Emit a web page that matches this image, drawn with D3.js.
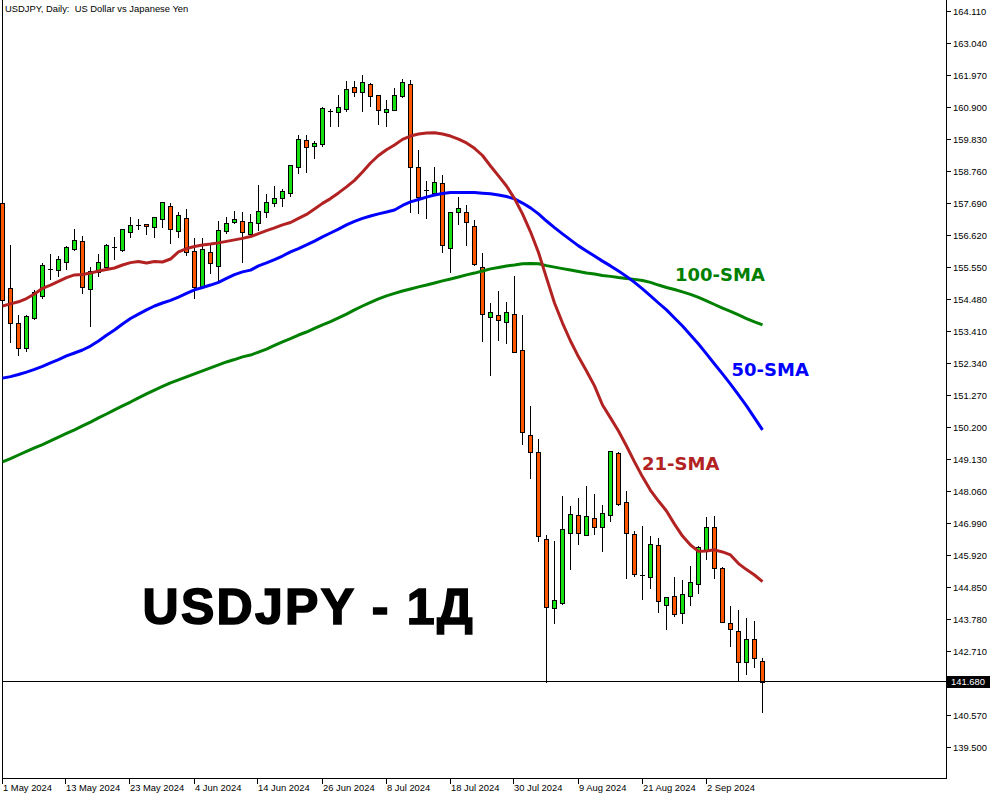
<!DOCTYPE html>
<html><head><meta charset="utf-8">
<script src="https://cdn.jsdelivr.net/npm/d3@7"></script>
<style>html,body{margin:0;padding:0;background:#fff;} svg{display:block;} text{white-space:pre;}</style>
</head><body>
<svg id="c" width="1000" height="800"></svg>
<script>
// ---- data (USDJPY daily, 1 May 2024 – 11 Sep 2024) ----
const open = [157.68,154.84,153.67,152.86,153.84,154.60,155.48,155.44,155.71,156.17,
156.41,154.81,155.39,155.56,156.23,156.12,156.73,156.97,156.98,156.88,
157.15,157.58,156.77,157.18,156.09,154.88,156.06,155.59,156.77,157.05,
157.08,156.65,157.02,157.40,157.68,157.87,158.02,158.91,159.80,159.61,
159.68,160.78,160.73,160.83,161.56,161.41,161.67,161.30,160.74,160.80,
161.28,161.66,158.89,158.13,158.02,158.35,156.18,157.38,157.40,156.92,
155.54,153.87,153.94,153.73,153.97,152.77,149.93,149.36,146.45,144.15,
144.31,146.65,147.26,146.59,147.16,146.85,147.26,149.34,147.69,146.62,
145.27,145.18,146.25,144.25,144.56,143.98,144.55,144.96,146.10,146.87,
145.48,143.66,143.40,142.34,143.13,142.39];
const high = [157.79,156.29,153.95,153.95,154.79,155.69,155.99,155.92,156.26,156.81,
156.59,155.54,155.99,156.32,156.57,156.83,157.23,157.16,157.00,157.24,
157.73,157.68,157.38,157.49,156.51,156.51,156.37,157.09,157.23,157.43,
157.39,157.33,158.30,157.99,158.26,158.16,158.96,159.97,159.97,159.78,
160.91,160.84,161.30,161.78,161.78,161.97,161.71,161.31,161.14,161.55,
161.84,161.80,159.46,158.43,158.91,158.63,157.40,157.88,157.63,157.13,
156.02,154.34,154.75,154.38,155.24,153.95,150.91,149.81,146.60,146.40,
147.90,147.57,147.82,148.23,147.97,147.60,149.40,149.36,148.07,146.74,
146.90,146.55,146.50,144.52,145.19,145.09,145.55,146.22,147.19,147.22,
145.54,144.23,144.09,143.83,143.72,142.48];
const low = [152.95,153.06,152.61,152.76,153.80,154.53,155.15,155.25,155.49,156.12,
154.70,153.59,155.26,155.54,155.82,156.08,156.55,156.83,156.67,156.57,
156.90,156.37,156.57,155.97,154.53,154.84,155.36,155.12,156.68,157.04,
155.73,156.62,156.79,157.24,157.60,157.60,157.94,158.69,158.74,159.21,
159.60,160.28,160.28,160.78,161.28,160.78,160.95,160.33,160.28,160.79,
161.25,157.40,157.37,157.19,158.00,156.07,155.38,156.98,156.29,155.62,
153.09,151.94,153.11,153.02,152.70,149.63,148.51,146.41,141.69,143.65,
144.28,145.45,146.29,146.58,146.62,146.07,147.05,147.59,145.17,145.21,
144.45,144.83,144.03,143.45,143.90,143.67,144.24,144.67,145.79,145.15,
143.69,142.90,141.73,141.94,142.20,140.69];
const close = [154.45,153.69,152.86,153.91,154.71,155.62,155.48,155.81,156.21,156.45,
154.88,155.42,155.71,156.28,156.23,156.81,156.96,156.97,156.91,157.23,
157.72,156.81,157.29,156.07,154.88,156.15,155.68,156.78,157.03,157.15,
156.73,157.05,157.43,157.72,157.85,158.09,158.95,159.82,159.58,159.69,
160.86,160.78,160.89,161.49,161.41,161.73,161.28,160.81,160.84,161.30,
161.73,158.91,157.88,158.13,158.39,156.28,157.38,157.52,157.07,155.64,
153.97,154.04,153.77,154.04,152.70,150.03,149.36,146.57,144.18,144.41,
146.79,147.29,146.65,147.22,146.85,147.32,149.39,147.62,146.65,145.28,
145.27,146.28,144.38,144.51,143.95,144.62,145.02,146.21,146.87,145.49,
143.70,143.45,142.34,143.13,142.48,141.68];
const sma21 = [154.25,154.32,154.39,154.50,154.65,154.84,154.95,155.07,155.20,155.29,
155.30,155.35,155.42,155.47,155.52,155.62,155.70,155.74,155.69,155.74,
155.72,155.82,156.06,156.17,156.24,156.29,156.32,156.36,156.41,156.46,
156.51,156.57,156.67,156.77,156.86,156.96,157.04,157.18,157.31,157.49,
157.68,157.84,158.03,158.23,158.45,158.73,159.03,159.28,159.47,159.63,
159.82,159.93,160.00,160.03,160.04,160.00,159.93,159.83,159.70,159.52,
159.28,158.93,158.60,158.26,157.84,157.33,156.73,156.04,155.19,154.35,
153.68,153.08,152.55,152.08,151.58,150.94,150.51,150.07,149.57,149.04,
148.54,148.09,147.73,147.40,146.96,146.56,146.26,146.05,146.06,146.10,
146.03,145.93,145.64,145.44,145.26,145.04];
const sma50 = [151.84,151.89,151.96,152.04,152.13,152.23,152.35,152.46,152.58,152.68,
152.78,152.91,153.08,153.27,153.45,153.65,153.83,153.98,154.12,154.25,
154.35,154.44,154.55,154.67,154.79,154.87,154.95,155.04,155.17,155.30,
155.39,155.45,155.59,155.69,155.80,155.92,156.06,156.17,156.29,156.42,
156.56,156.69,156.82,156.96,157.08,157.18,157.26,157.33,157.39,157.46,
157.61,157.73,157.81,157.89,157.96,158.01,158.04,158.04,158.04,158.04,
158.02,158.00,157.96,157.91,157.83,157.69,157.53,157.33,157.09,156.87,
156.66,156.46,156.26,156.09,155.92,155.75,155.59,155.42,155.24,155.04,
154.82,154.59,154.35,154.12,153.85,153.58,153.28,152.98,152.65,152.31,
151.98,151.64,151.28,150.91,150.51,150.11];
const sma100 = [149.04,149.15,149.27,149.39,149.51,149.62,149.74,149.87,149.99,150.11,
150.24,150.37,150.51,150.64,150.78,150.91,151.04,151.18,151.31,151.44,
151.56,151.68,151.78,151.88,151.98,152.08,152.18,152.28,152.38,152.46,
152.55,152.61,152.71,152.81,152.93,153.05,153.16,153.28,153.38,153.50,
153.62,153.73,153.85,153.98,154.12,154.25,154.37,154.49,154.59,154.67,
154.75,154.82,154.89,154.95,155.02,155.09,155.15,155.22,155.29,155.35,
155.42,155.49,155.54,155.59,155.62,155.66,155.67,155.66,155.60,155.55,
155.50,155.45,155.40,155.35,155.32,155.27,155.24,155.20,155.17,155.14,
155.10,155.04,154.95,154.87,154.80,154.72,154.64,154.54,154.42,154.30,
154.18,154.07,153.95,153.83,153.72,153.62];
const yTicks = [164.110,163.040,161.970,160.900,159.830,158.760,157.690,156.620,155.550,154.480,
153.410,152.340,151.270,150.200,149.130,148.060,146.990,145.920,144.850,143.780,142.710,140.570,139.500];
const xTickLabels = ["1 May 2024","13 May 2024","23 May 2024","4 Jun 2024","14 Jun 2024","26 Jun 2024",
"8 Jul 2024","18 Jul 2024","30 Jul 2024","9 Aug 2024","21 Aug 2024","2 Sep 2024"];
const xTickBars = [0,8,16,24,32,40,48,56,64,72,80,88];
const lastPrice = 141.68;
const titleText = "USDJPY, Daily:  US Dollar vs Japanese Yen";
const bigText = "USDJPY - 1Д";
const smaLabels = ["21-SMA","50-SMA","100-SMA"];

// ---- drawing ----
const svg = d3.select("#c");
svg.append("rect").attr("width",1000).attr("height",800).attr("fill","#fff");
const L = 2.5, R = 946.5, B = 778.5;
const x = d3.scaleLinear().domain([0, 95]).range([2.5, 762.5]);
const y = d3.scaleLinear().domain([139.5, 164.11]).range([747.3, 11]);
const snap = v => Math.round(v) + 0.5;
const small = "'Liberation Sans', Arial, sans-serif";
const BULL = "#14e014", BEAR = "#ff5500";

// frame
const frame = svg.append("g").attr("stroke","#000").attr("stroke-width",1).attr("shape-rendering","crispEdges");
frame.append("line").attr("x1",L).attr("x2",L).attr("y1",0).attr("y2",B);
frame.append("line").attr("x1",R).attr("x2",R).attr("y1",0).attr("y2",B);
frame.append("line").attr("x1",L).attr("x2",R).attr("y1",B).attr("y2",B);

// candles
const idx = d3.range(open.length);
const cg = svg.append("g").attr("shape-rendering","crispEdges");
idx.forEach(i => {
  const cx = x(i);
  cg.append("line").attr("x1",cx).attr("x2",cx)
    .attr("y1",Math.round(y(high[i]))).attr("y2",Math.round(y(low[i]))+1)
    .attr("stroke","#000").attr("stroke-width",1);
  const t = snap(y(Math.max(open[i],close[i]))), b = snap(y(Math.min(open[i],close[i])));
  if (b - t < 1) {
    cg.append("line").attr("x1",cx-2.5).attr("x2",cx+2.5).attr("y1",t).attr("y2",t)
      .attr("stroke","#000").attr("stroke-width",1);
  } else {
    cg.append("rect").attr("x",cx-2).attr("width",4).attr("y",t).attr("height",b-t)
      .attr("fill", close[i] >= open[i] ? BULL : BEAR).attr("stroke","#000").attr("stroke-width",1);
  }
});

// moving averages
const line = d3.line().x((d,i)=>x(i)).y(d=>y(d));
[[sma100,"#008000"],[sma50,"#0000ff"],[sma21,"#b22222"]].forEach(([arr,col]) => {
  svg.append("path").datum(arr).attr("d",line).attr("fill","none")
    .attr("stroke",col).attr("stroke-width",3).attr("stroke-linejoin","round");
});

// current price line
svg.append("line").attr("x1",L).attr("x2",R).attr("y1",snap(y(lastPrice))-1).attr("y2",snap(y(lastPrice))-1)
  .attr("stroke","#000").attr("stroke-width",1).attr("shape-rendering","crispEdges");

// y axis
const ya = svg.append("g");
yTicks.forEach(v => {
  const yy = snap(y(v));
  ya.append("line").attr("x1",R).attr("x2",R+4).attr("y1",yy).attr("y2",yy)
    .attr("stroke","#000").attr("shape-rendering","crispEdges");
  ya.append("text").attr("x",R+6.5).attr("y",yy).attr("dy","0.35em")
    .attr("font-family",small).attr("font-size",9.4).attr("fill","#000").text(v.toFixed(3));
});
// price label
const py = y(lastPrice);
svg.append("rect").attr("x",947).attr("y",Math.round(py)-6).attr("width",43).attr("height",12).attr("fill","#000");
svg.append("text").attr("x",951).attr("y",py).attr("dy","0.35em")
  .attr("font-family",small).attr("font-size",9.4).attr("fill","#fff").text(lastPrice.toFixed(3));

// x axis
const xa = svg.append("g");
xTickBars.forEach((bi,k) => {
  const xx = Math.round(x(bi)) - 0.5;
  xa.append("line").attr("x1",xx).attr("x2",xx).attr("y1",B).attr("y2",B+5)
    .attr("stroke","#000").attr("shape-rendering","crispEdges");
  xa.append("text").attr("x",xx+0.5).attr("y",791)
    .attr("font-family",small).attr("font-size",9.4).attr("fill","#000").text(xTickLabels[k]);
});

// title
svg.append("text").attr("x",5).attr("y",12).attr("font-family",small).attr("font-size",9.4)
  .attr("fill","#000").attr("xml:space","preserve").text(titleText);

// SMA labels
const lab = "'DejaVu Sans', Verdana, sans-serif";
svg.append("text").attr("x",642).attr("y",470).attr("font-family",lab).attr("font-weight","bold")
  .attr("font-size",18).attr("fill","#b22222").text(smaLabels[0]);
svg.append("text").attr("x",731.5).attr("y",375.5).attr("font-family",lab).attr("font-weight","bold")
  .attr("font-size",18).attr("fill","#0000ff").text(smaLabels[1]);
svg.append("text").attr("x",675).attr("y",281).attr("font-family",lab).attr("font-weight","bold")
  .attr("font-size",18).attr("fill","#008000").text(smaLabels[2]);

// big text
svg.append("text").attr("x",142.5).attr("y",624).attr("font-family","'Liberation Sans', Arial, sans-serif")
  .attr("font-weight","bold").attr("font-size",50).attr("fill","#000")
  .attr("stroke","#000").attr("stroke-width",1.6).attr("paint-order","stroke")
  .attr("textLength",330).attr("lengthAdjust","spacing").text(bigText);
</script>
</body></html>
